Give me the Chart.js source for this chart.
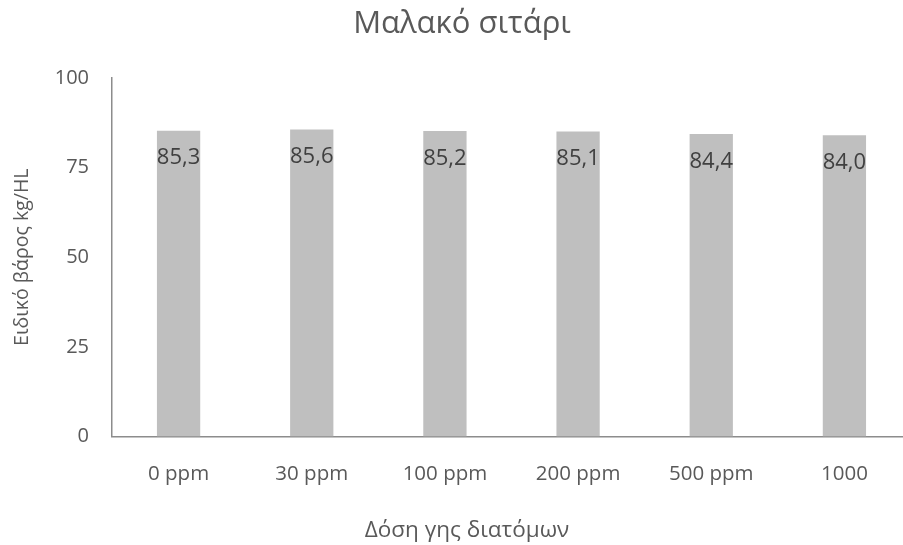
<!DOCTYPE html>
<html>
<head>
<meta charset="utf-8">
<script src="https://cdn.jsdelivr.net/npm/chart.js@4/dist/chart.umd.min.js"></script>
<style>
  html, body { margin: 0; padding: 0; background: #ffffff; overflow: hidden; }
  #wrap { position: relative; width: 915px; height: 545px; }
</style>
</head>
<body>
<div id="wrap"><canvas id="chart" width="915" height="545"></canvas></div>
<script>
// Dose categories and measured specific weight (kg/HL)
const categories = ['0 ppm', '30 ppm', '100 ppm', '200 ppm', '500 ppm', '1000'];
const specificWeight = [85.3, 85.6, 85.2, 85.1, 84.4, 84.0];
const yTicks = [0, 25, 50, 75, 100];

const chartTitle = 'Μαλακό σιτάρι';
const xTitle = 'Δόση γης διατόμων';
const yTitle = 'Ειδικό βάρος kg/HL';

const FONT = '"Open Sans", "DejaVu Sans", sans-serif';
const TEXT = '#595959';

// Title, x-axis caption and value labels drawn on top of the bars
const decorations = {
  id: 'decorations',
  afterDatasetsDraw(chart) {
    const ctx = chart.ctx;
    const meta = chart.getDatasetMeta(0);
    ctx.save();
    ctx.fillStyle = '#404040';
    ctx.font = '22px ' + FONT;
    ctx.textAlign = 'center';
    ctx.textBaseline = 'middle';
    meta.data.forEach((bar, i) => {
      const v = specificWeight[i];
      ctx.fillText(v.toFixed(1).replace('.', ','), bar.x, bar.y + 27.5);
    });
    ctx.fillStyle = TEXT;
    ctx.textBaseline = 'alphabetic';
    ctx.font = '31px ' + FONT;
    ctx.fillText(chartTitle, 462, 33);
    ctx.font = '22.5px ' + FONT;
    ctx.fillText(xTitle, 467, 537);
    ctx.restore();
  }
};

new Chart(document.getElementById('chart'), {
  type: 'bar',
  data: {
    labels: categories,
    datasets: [{
      data: specificWeight,
      backgroundColor: '#bfbfbf',
      borderWidth: 0,
      barPercentage: 1,
      categoryPercentage: 0.325
    }]
  },
  options: {
    responsive: false,
    animation: false,
    layout: { padding: { top: 78, right: 4, bottom: 0, left: 0 } },
    plugins: {
      legend: { display: false },
      tooltip: { enabled: false }
    },
    scales: {
      x: {
        grid: { display: false, drawTicks: false },
        border: { display: true, color: '#8c8c8c', width: 1.5 },
        ticks: { color: TEXT, font: { family: FONT, size: 20.5 }, padding: 25, maxRotation: 0, autoSkip: false },
        afterFit(scale) { scale.height = 108.5; }
      },
      y: {
        min: 0,
        max: 100,
        afterBuildTicks(scale) { scale.ticks = yTicks.map(v => ({ value: v })); },
        grid: { display: false, drawTicks: false },
        border: { display: true, color: '#8c8c8c', width: 1.5 },
        ticks: { color: TEXT, font: { family: FONT, size: 20 }, padding: 23 },
        title: {
          display: true,
          text: yTitle,
          color: TEXT,
          font: { family: FONT, size: 19.5 },
          padding: { top: 11, bottom: 0 }
        },
        afterFit(scale) { scale.width = 112; }
      }
    }
  },
  plugins: [decorations]
});
</script>
</body>
</html>
